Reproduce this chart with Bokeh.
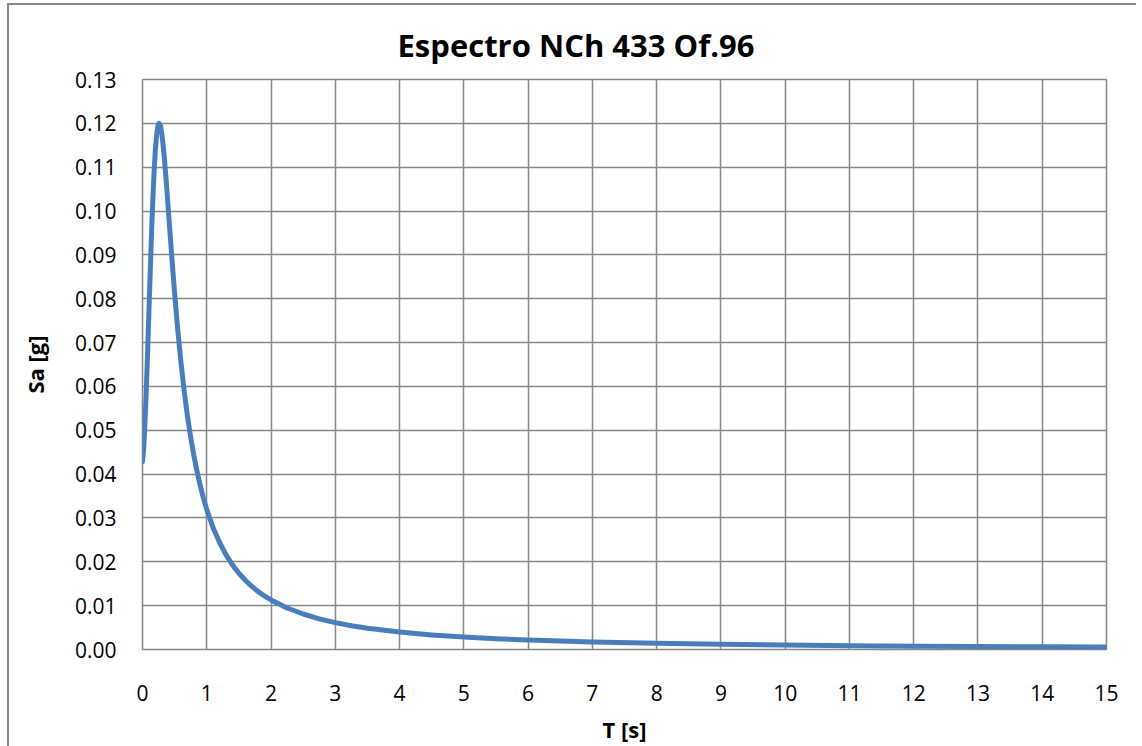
from bokeh.plotting import figure
from bokeh.models import Range1d, FixedTicker, PrintfTickFormatter
from bokeh.embed import file_html
from bokeh.resources import INLINE

# Periods T [s] and spectral acceleration Sa [g]
T = [0.00, 0.02, 0.04, 0.06, 0.08, 0.10, 0.12, 0.14, 0.16, 0.18, 0.20, 0.22,
     0.24, 0.26, 0.28, 0.30, 0.32, 0.34, 0.36, 0.38, 0.40, 0.45, 0.50, 0.55,
     0.60, 0.65, 0.70, 0.75, 0.80, 0.85, 0.90, 0.95, 1.00, 1.10, 1.20, 1.30,
     1.40, 1.50, 1.60, 1.70, 1.80, 1.90, 2.00, 2.25, 2.50, 2.75, 3.00, 3.25,
     3.50, 4.00, 4.50, 5.00, 5.50, 6.00, 7.00, 8.00, 9.00, 10.0, 11.0, 12.0,
     13.0, 14.0, 15.0]
Sa = [0.0428, 0.0461, 0.0521, 0.0596, 0.0680, 0.0770, 0.0860, 0.0946, 0.1023,
      0.1088, 0.1139, 0.1174, 0.1195, 0.1200, 0.1194, 0.1177, 0.1152, 0.1121,
      0.1085, 0.1047, 0.1007, 0.0907, 0.0812, 0.0727, 0.0653, 0.0588, 0.0532,
      0.0484, 0.0442, 0.0405, 0.0373, 0.0344, 0.0319, 0.0277, 0.0244, 0.0216,
      0.0193, 0.0174, 0.0158, 0.0144, 0.0132, 0.0122, 0.0113, 0.00946, 0.0081,
      0.00699, 0.00613, 0.00543, 0.00486, 0.00397, 0.00333, 0.00284, 0.00246,
      0.00216, 0.00171, 0.00140, 0.00117, 0.00100, 0.00087, 0.00076, 0.00068,
      0.00060, 0.00055]

x_ticks = [0, 1, 2, 3, 4, 5, 6, 7, 8, 9, 10, 11, 12, 13, 14, 15]
y_ticks = [0.00, 0.01, 0.02, 0.03, 0.04, 0.05, 0.06, 0.07, 0.08, 0.09, 0.10,
           0.11, 0.12, 0.13]

title_text = "Espectro NCh 433 Of.96"
x_label = "T [s]"
y_label = "Sa [g]"

GRID = "#878787"
FONT = "Open Sans"

p = figure(frame_width=964, frame_height=570,
           x_range=Range1d(0, 15), y_range=Range1d(0, 0.13),
           output_backend="svg", toolbar_location=None,
           min_border_left=133, min_border_top=74, min_border_right=30,
           min_border_bottom=92)
p.styles = {"border-top": "2px solid #878787", "border-left": "2px solid #878787",
            "margin-left": "7px", "margin-top": "3px"}
p.background_fill_color = "white"
p.border_fill_color = "white"
p.outline_line_color = GRID
p.outline_line_width = 1.5

p.title.text = title_text
p.title.align = "left"
p.title.text_font = FONT
p.title.text_font_style = "bold"
p.title.text_font_size = "31px"
p.title.text_color = "black"
p.title.offset = 255
p.title.standoff = 28

p.line(T, Sa, line_color="#4A7EBB", line_width=5, line_join="round", line_cap="round")

for ax in (p.xaxis[0], p.yaxis[0]):
    ax.axis_line_color = None
    ax.major_tick_line_color = None
    ax.minor_tick_line_color = None
    ax.major_tick_in = 0
    ax.major_tick_out = 0
    ax.minor_tick_in = 0
    ax.minor_tick_out = 0
    ax.major_label_text_font = FONT
    ax.major_label_text_font_size = "21px"
    ax.major_label_text_color = "black"
    ax.axis_label_text_font = FONT
    ax.axis_label_text_font_style = "bold"
    ax.axis_label_text_font_size = "22px"
    ax.axis_label_text_color = "black"

p.xaxis.ticker = FixedTicker(ticks=x_ticks)
p.yaxis.ticker = FixedTicker(ticks=y_ticks)
p.yaxis.formatter = PrintfTickFormatter(format="%.2f")
p.xaxis.axis_label = x_label
p.yaxis.axis_label = y_label
p.xaxis.major_label_standoff = 35
p.yaxis.major_label_standoff = 26
p.xaxis.axis_label_standoff = 10
p.yaxis.axis_label_standoff = 22

p.xgrid.ticker = FixedTicker(ticks=x_ticks)
p.ygrid.ticker = FixedTicker(ticks=y_ticks)
for g in (p.xgrid[0], p.ygrid[0]):
    g.grid_line_color = GRID
    g.grid_line_width = 1.5

open("out.html", "w").write(file_html(p, INLINE))
